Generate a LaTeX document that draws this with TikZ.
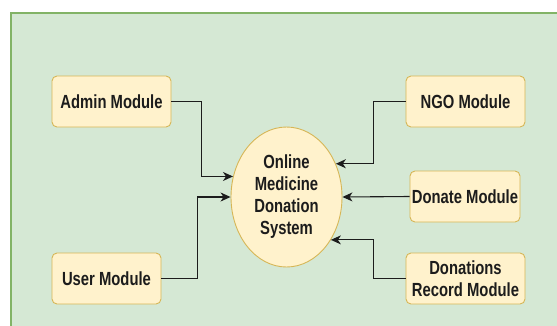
\documentclass[tikz,border=0pt]{standalone}
\usepackage{fontspec}
\setmainfont[FakeStretch=0.78]{Liberation Sans}
\usetikzlibrary{shapes.geometric,arrows.meta}
\definecolor{bggreen}{HTML}{D5E8D4}
\definecolor{bgedge}{HTML}{82B366}
\definecolor{boxfill}{HTML}{FFF2CC}
\definecolor{boxedge}{HTML}{D6B656}
\definecolor{ink}{HTML}{1C1C1C}
\tikzset{
  modbox/.style={draw=boxedge, fill=boxfill, line width=0.9pt, rounded corners=5pt,
    minimum height=51pt, inner sep=0pt, align=center, text=ink,
    font=\fontsize{19}{21.5}\selectfont\bfseries},
  sysnode/.style={ellipse, draw=boxedge, fill=boxfill, line width=0.9pt,
    minimum width=111pt, minimum height=140pt, inner sep=0pt, align=center, text=ink,
    font=\fontsize{19}{22}\selectfont\bfseries},
  link/.style={draw=ink, line width=1.1pt, -{Stealth[length=10pt,width=9pt,inset=3pt]}}
}
\begin{document}
\begin{tikzpicture}[x=1pt,y=-1pt]
\useasboundingbox (0,0) rectangle (557,325);
\fill[white] (0,0) rectangle (557,325);
\draw[draw=bgedge, fill=bggreen, line width=2pt] (11,13) rectangle (580,345);
\node[modbox, minimum width=119pt] (admin) at (111.5,101.5) {Admin Module};
\node[modbox, minimum width=109pt] (user) at (106.5,278.5) {User Module};
\node[modbox, minimum width=119pt] (ngo) at (465.5,101.5) {NGO Module};
\node[modbox, minimum width=110pt] (donate) at (465,196.5) {Donate Module};
\node[modbox, minimum width=119pt] (record) at (465.5,278.5) {Donations\\Record Module};
\node[sysnode] (sys) at (286.5,197) {Online\\Medicine\\Donation\\System};
\draw[link] (admin.east) -- ++(30,0) |- (sys.159.9);
\draw[link] (user.east) -- ++(36,0) |- (sys.west);
\draw[link] (ngo.west) -- ++(-32,0) |- (sys.34);
\draw[link] (donate.west) -- (sys.east);
\draw[link] (record.west) -- ++(-32,0) |- (sys.-44.5);
\end{tikzpicture}
\end{document}
